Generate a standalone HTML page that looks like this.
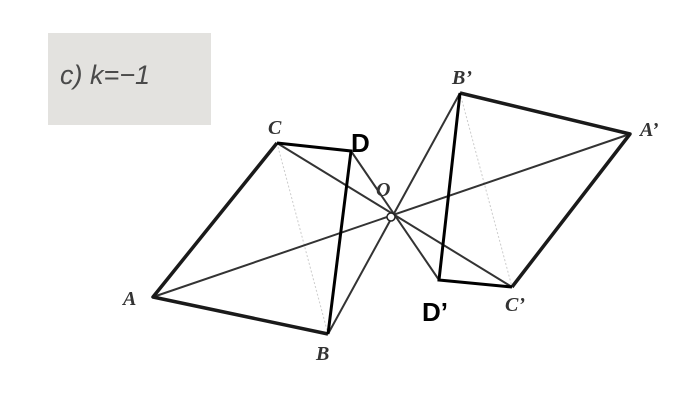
<!DOCTYPE html>
<html><head><style>body{margin:0;background:#fff}</style></head><body>
<svg width="698" height="406" xmlns="http://www.w3.org/2000/svg">
<rect width="698" height="406" fill="#fff"/>
<rect x="48" y="33" width="163" height="92" fill="#e3e2df"/>
<text x="60" y="84" font-family="Liberation Sans, sans-serif" font-size="27" font-style="italic" fill="#4a4a4a">c)  k=−1</text>
<g stroke="#ccc" stroke-width="1" stroke-dasharray="2,2">
<line x1="277" y1="143" x2="328" y2="334"/><line x1="460" y1="93" x2="512" y2="287"/>
</g>
<g stroke="#333" stroke-width="2" fill="none">
<line x1="153" y1="297" x2="630" y2="134"/>
<line x1="277" y1="143" x2="512" y2="287"/>
<line x1="328" y1="334" x2="460" y2="93"/>
<line x1="351" y1="151" x2="439" y2="280"/>
</g>
<g stroke="#1a1a1a" stroke-width="3.5" fill="none" stroke-linejoin="round">
<polyline points="277,143 153,297 328,334"/>
<polyline points="460,93 630,134 512,287"/>
</g>
<g stroke="#000" stroke-width="3" fill="none">
<polyline points="277,143 351,151 328,334"/>
<polyline points="460,93 439,280 512,287"/>
</g>
<circle cx="391" cy="217" r="4" fill="#fff" stroke="#222" stroke-width="1.5"/>
<g font-family="Liberation Serif, serif" font-style="italic" font-weight="bold" font-size="20" fill="#333">
<text x="268" y="134">C</text><text x="123" y="305">A</text><text x="316" y="360">B</text>
<text x="376" y="196">O</text><text x="452" y="84">B’</text><text x="640" y="136">A’</text><text x="505" y="311">C’</text>
</g>
<g font-family="Liberation Sans, sans-serif" font-size="26" font-weight="bold" fill="#000">
<text x="351" y="152">D</text><text x="422" y="321">D’</text>
</g>
</svg>
</body></html>
